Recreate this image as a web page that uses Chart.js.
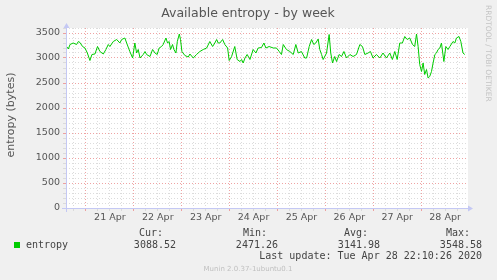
<!DOCTYPE html>
<html><head><meta charset="utf-8">
<script src="https://cdn.jsdelivr.net/npm/chart.js@4/dist/chart.umd.min.js"></script>
<style>html,body{margin:0;padding:0;background:#f0f0f0;overflow:hidden}canvas{display:block}</style>
</head><body>
<canvas id="c" width="497" height="280"></canvas>
<script>
// ---- data ----
const chartTitle = 'Available entropy - by week';
const yAxisTitle = 'entropy (bytes)';
const seriesName = 'entropy';
const dayLabels = ['21 Apr','22 Apr','23 Apr','24 Apr','25 Apr','26 Apr','27 Apr','28 Apr'];
const yTickLabels = ['0','500','1000','1500','2000','2500','3000','3500'];
// hours since 21 Apr 00:00
const sampleHours = [
 -9.7,-8.8,-8.0,-6.4,-4.7,-3.8,-3.0,-1.7,-0.5,0.7,
 2.0,3.0,4.5,5.8,7.0,8.7,10.0,11.2,12.0,13.7,
 15.4,17.0,17.9,19.5,20.4,22.0,23.4,24.5,25.4,26.2,
 27.1,28.7,29.6,30.4,32.1,33.4,34.6,35.7,36.7,37.9,
 38.7,40.1,40.9,41.7,42.4,43.4,44.1,45.1,45.8,46.8,
 47.4,48.1,49.6,51.3,52.1,53.8,55.4,57.1,58.8,60.5,
 62.1,63.5,64.6,65.5,66.3,67.1,68.5,69.6,71.0,71.8,
 73.0,74.6,75.8,77.2,78.0,78.8,
 79.7,80.8,82.2,83.8,85.2,86.3,88.0,89.2,90.2,91.8,
 93.9,95.5,96.9,98.0,98.9,100.5,102.2,103.9,105.2,106.4,
 108.0,109.7,110.6,111.9,113.1,114.2,115.2,116.4,117.2,118.1,
 118.9,120.6,121.9,122.7,123.6,124.7,125.6,126.9,128.1,129.3,
 130.6,132.3,133.9,135.6,137.3,138.6,139.8,141.4,142.6,143.9,
 145.6,147.3,148.9,150.6,152.3,153.6,154.8,156.0,157.3,158.6,
 159.8,161.0,162.3,163.7,164.8,165.7,166.5,167.3,168.2,169.0,
 169.8,170.7,171.5,172.3,173.2,174.0,174.9,175.7,176.5,177.4,
 178.2,179.4,180.4,181.5,182.4,184.0,184.9,185.7,187.0,187.9,
 189.0,189.9
];
const entropyValues = [
 3230,3180,3270,3300,3270,3330,3310,3230,3200,3100,
 2950,3070,3080,3230,3130,3080,3170,3270,3230,3330,
 3370,3300,3370,3400,3300,3130,3000,3300,3100,3170,
 3000,3070,3130,3070,3030,3170,3100,3070,3200,3230,
 3270,3400,3300,3330,3170,3270,3170,3100,3330,3480,
 3370,3130,3050,3020,3080,3000,3070,3130,3170,3200,
 3330,3230,3300,3370,3300,3300,3370,3270,3200,2950,
 3030,3230,2970,2930,2970,2900,
 3000,3070,2970,3170,3100,3200,3210,3300,3200,3230,
 3200,3200,3130,3070,3270,3170,3130,3070,3270,3100,
 3130,3000,3000,3230,3370,3270,3300,3380,3170,3070,
 2970,3100,3470,3100,2900,3030,2930,3070,3030,3130,
 3000,3070,3030,3070,3270,3230,3070,3100,3130,3000,
 3070,3000,3100,3000,3100,2970,3130,2970,3300,3300,
 3430,3370,3400,3270,3230,3480,3230,2870,2730,2900,
 2670,2770,2600,2630,2730,2900,3070,3100,3170,3200,
 3300,2930,3230,3170,3230,3330,3300,3400,3430,3330,
 3100,3070
];
const statHeaders = ['Cur:','Min:','Avg:','Max:'];
const statValues = ['3088.52','2471.26','3141.98','3548.58'];
const lastUpdate = 'Last update: Tue Apr 28 22:10:26 2020';
const footerText = 'Munin 2.0.37-1ubuntu0.1';
const sideText = 'RRDTOOL / TOBI OETIKER';

// ---- chart ----
const points = sampleHours.map((h, i) => ({x: h, y: entropyValues[i]}));
const MAJOR = 'rgba(235,140,140,0.8)';
const MINOR = 'rgba(214,214,214,0.85)';
const TXT = '#555555';

const decor = {
  id: 'decor',
  beforeDraw(chart) {
    const c = chart.ctx, a = chart.chartArea;
    c.save();
    c.fillStyle = '#f0f0f0';
    c.fillRect(0, 0, chart.width, chart.height);
    c.fillStyle = '#ffffff';
    c.fillRect(a.left, a.top, a.right - a.left, a.bottom - a.top);
    c.restore();
  },
  afterDraw(chart) {
    const c = chart.ctx, a = chart.chartArea;
    c.save();
    // axes
    c.strokeStyle = '#c4c8f4';
    c.fillStyle = '#c4c8f4';
    c.lineWidth = 1;
    c.beginPath();
    c.moveTo(a.left - 4, a.bottom + 0.5); c.lineTo(a.right + 1, a.bottom + 0.5);
    c.moveTo(a.left + 0.5, a.bottom + 4); c.lineTo(a.left + 0.5, a.top - 1);
    c.stroke();
    c.beginPath();
    c.moveTo(a.right + 5, a.bottom + 0.5); c.lineTo(a.right, a.bottom - 2.5); c.lineTo(a.right, a.bottom + 3.5); c.closePath();
    c.fill();
    c.beginPath();
    c.moveTo(a.left + 0.5, a.top - 5); c.lineTo(a.left - 2.5, a.top); c.lineTo(a.left + 3.5, a.top); c.closePath();
    c.fill();

    // title
    c.fillStyle = TXT;
    c.font = '12.5px "DejaVu Sans"';
    c.textAlign = 'center'; c.textBaseline = 'middle';
    c.fillText(chartTitle, 248, 14);

    // y title
    c.save();
    c.translate(11, 115);
    c.rotate(-Math.PI / 2);
    c.font = '11px "DejaVu Sans"';
    c.fillText(yAxisTitle, 0, 0);
    c.restore();

    // side text
    c.save();
    c.translate(488, 5);
    c.rotate(Math.PI / 2);
    c.font = '7.5px "DejaVu Sans"';
    c.fillStyle = '#c4c4c4';
    c.textAlign = 'left';
    c.fillText(sideText, 0, 0);
    c.restore();

    // legend
    c.fillStyle = '#00cc00';
    c.fillRect(14, 242, 6, 6);
    c.font = '10px "DejaVu Sans Mono"';
    c.fillStyle = '#444';
    c.textAlign = 'left';
    c.fillText(seriesName, 26, 245);
    const headRight = [163, 267, 368, 470];
    const valRight = [176, 278, 380, 482];
    c.textAlign = 'right';
    statHeaders.forEach((t, i) => c.fillText(t, headRight[i], 233));
    statValues.forEach((t, i) => c.fillText(t, valRight[i], 245));
    c.fillText(lastUpdate, 482, 256);

    // footer
    c.textAlign = 'center';
    c.font = '7px "DejaVu Sans"';
    c.fillStyle = '#c0c0c0';
    c.fillText(footerText, 248, 269);
    c.restore();
  }
};

new Chart(document.getElementById('c'), {
  type: 'line',
  data: {
    datasets: [{
      label: seriesName,
      data: points,
      borderColor: '#00cc00',
      borderWidth: 1,
      pointRadius: 0,
      tension: 0,
      fill: false
    }]
  },
  options: {
    responsive: false,
    devicePixelRatio: 1,
    animation: false,
    layout: {padding: {left: 0, right: 29, top: 28, bottom: 0}},
    plugins: {legend: {display: false}, title: {display: false}, tooltip: {enabled: false}},
    scales: {
      x: {
        type: 'linear',
        min: -10,
        max: 191.5,
        afterBuildTicks: s => {
          const t = [];
          for (let h = -6; h <= 186; h += 6) t.push({value: h});
          s.ticks = t;
        },
        afterFit: s => { s.height = 72; },
        ticks: {
          autoSkip: false, maxRotation: 0, minRotation: 0, padding: 1,
          color: TXT,
          font: {family: 'DejaVu Sans', size: 9.5},
          callback: v => ((v % 24) + 24) % 24 === 12 ? dayLabels[(v - 12) / 24] : ''
        },
        grid: {
          color: ctx => (ctx.tick && ctx.tick.value % 24 === 0) ? MAJOR : MINOR,
          tickLength: 3,
          lineWidth: 1
        },
        border: {display: false, dash: [1, 2]}
      },
      y: {
        type: 'linear',
        min: 0,
        max: 3600,
        afterBuildTicks: s => {
          const t = [];
          for (let v = 0; v <= 3600; v += 100) t.push({value: v});
          s.ticks = t;
        },
        afterFit: s => { s.width = 66; },
        ticks: {
          autoSkip: false, padding: 3,
          color: TXT,
          font: {family: 'DejaVu Sans', size: 9.5},
          callback: v => v % 500 === 0 ? yTickLabels[v / 500] : ''
        },
        grid: {
          color: ctx => (ctx.tick && ctx.tick.value % 500 === 0) ? MAJOR : MINOR,
          tickLength: 3,
          lineWidth: 1
        },
        border: {display: false, dash: [1, 2]}
      }
    }
  },
  plugins: [decor]
});
</script>
</body></html>
